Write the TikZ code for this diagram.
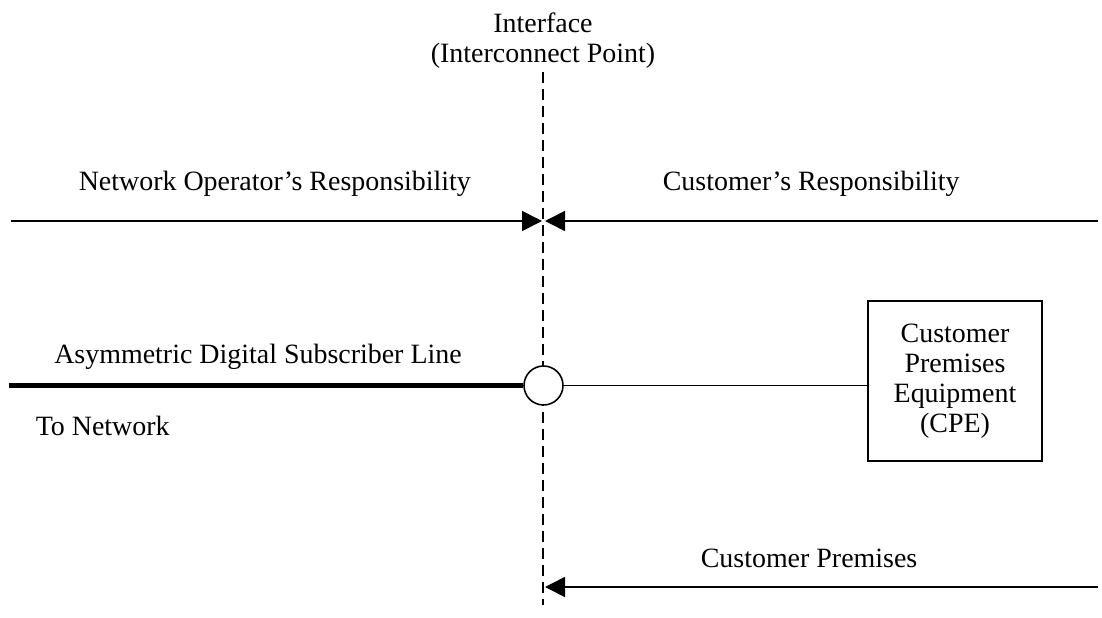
\documentclass[tikz,border=0pt]{standalone}
\usepackage{fontspec}
\setmainfont{Liberation Serif}
\usetikzlibrary{arrows.meta}

\begin{document}
\begin{tikzpicture}[> = {Triangle[length = 4mm, width = 4mm]}, line width = 0.9pt, font = \fontsize{15.9}{17.1}\selectfont, caption/.style = {anchor = base west, inner sep = 0pt}]

	\useasboundingbox (0, 0) rectangle (22.04, 12.34);

	% The interface (interconnect point)
	
	\node [align = center] (iface) at (10.86, 11.53) {Interface\\(Interconnect Point)};
	\coordinate (itop) at (10.86, 10.9);
	\coordinate (ibot) at (10.86, 0.24);
	\draw [dash pattern = on 0.22cm off 0.12cm] (itop) -- (ibot);

	% Responsibilities
	
	\coordinate (opstart) at (0.22, 7.92);
	\coordinate (optip) at (10.84, 7.92);
	\coordinate (custstart) at (21.96, 7.92);
	\coordinate (custtip) at (10.90, 7.92);
	
	\node [caption] (oplabel) at (1.56, 8.54) {Network Operator’s Responsibility};
	\node [caption] (custlabel) at (13.24, 8.54) {Customer’s Responsibility};
	
	\draw [->] (opstart) -- (optip);
	\draw [->] (custstart) -- (custtip);

	% Line, interconnect point and CPE
	
	\node [draw, circle, fill = white, minimum size = 0.78cm, inner sep = 0pt] (ipoint) at (10.87, 4.63) {};
	\coordinate (netend) at (0.18, 4.63);
	\draw [line width = 3.2pt] (netend) -- (ipoint.west);
	
	\node [anchor = base] (adsl) at (5.16, 5.08) {Asymmetric Digital Subscriber Line};
	\node [caption] (tonet) at (0.7, 3.64) {To Network};
	
	\node [draw, align = center, minimum width = 3.48cm, minimum height = 3.2cm] (cpe) at (19.1, 4.72) {Customer\\Premises\\Equipment\\(CPE)};
	\draw (ipoint.east) -- (ipoint.east -| cpe.west);

	% Customer premises
	
	\coordinate (premstart) at (21.96, 0.6);
	\coordinate (premtip) at (10.90, 0.6);
	\draw [->] (premstart) -- (premtip);
	\node [caption] (premlabel) at (14.0, 1.0) {Customer Premises};

\end{tikzpicture}
\end{document}
